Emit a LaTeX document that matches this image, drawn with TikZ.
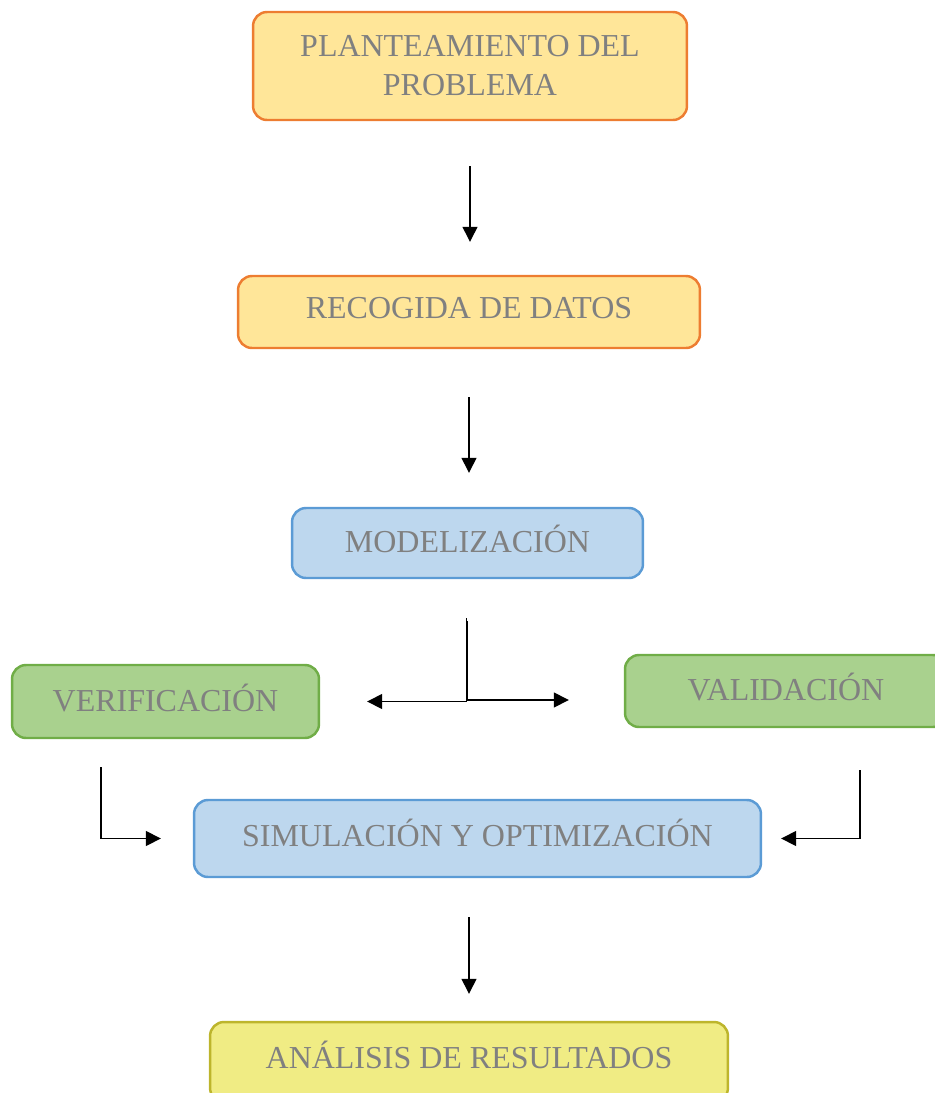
\documentclass[tikz,border=0pt]{standalone}
\usepackage{fontspec}
\setmainfont{Liberation Serif}
\usepackage[]{tikz}
\usetikzlibrary{arrows.meta}
\definecolor{naranja}{HTML}{ED7D31}
\definecolor{crema}{HTML}{FFE699}
\definecolor{azul}{HTML}{5B9BD5}
\definecolor{celeste}{HTML}{BDD7EE}
\definecolor{verde}{HTML}{70AD47}
\definecolor{verdeclaro}{HTML}{A9D18E}
\definecolor{oliva}{HTML}{BDB52C}
\definecolor{amarillo}{HTML}{F0EC84}
\definecolor{texto}{HTML}{808080}
\tikzset{caja/.style = {draw, rounded corners = 0.28cm, line width = 1.4pt, inner sep = 0,
    text = texto, align = center, text depth = 0.16cm, font = \fontsize{18.2}{22.5}\selectfont},
  naranjo/.style = {caja, draw = naranja, fill = crema},
  celest/.style = {caja, draw = azul, fill = celeste},
  verd/.style = {caja, draw = verde, fill = verdeclaro},
  amar/.style = {caja, draw = oliva, fill = amarillo},
  flecha/.style = {line width = 0.8pt, -{Triangle[length = 0.3cm, width = 0.3cm]}}}
\begin{document}
\begin{tikzpicture}[x = 0.02cm, y = -0.02cm]
            \useasboundingbox (0,0) rectangle (935,1093);
            \node [naranjo, text depth = 0.02cm, minimum width = 8.68cm, minimum height = 2.16cm] (plant) at (470,66) {PLANTEAMIENTO DEL\\PROBLEMA};
            \node [naranjo, minimum width = 9.24cm, minimum height = 1.44cm] (recog) at (469,312) {RECOGIDA DE DATOS};
            \node [celest, minimum width = 7.02cm, minimum height = 1.40cm] (model) at (467.5,543) {MODELIZACIÓN};
            \node [verd, minimum width = 6.14cm, minimum height = 1.46cm] (verif) at (165.5,701.5) {VERIFICACIÓN};
            \node [verd, minimum width = 6.44cm, minimum height = 1.44cm] (valid) at (786,691) {VALIDACIÓN};
            \node [celest, text depth = 0.24cm, minimum width = 11.34cm, minimum height = 1.54cm] (simul) at (477.5,838.5) {SIMULACIÓN Y OPTIMIZACIÓN};
            \node [amar, text depth = 0.3cm, minimum width = 10.36cm, minimum height = 1.60cm] (anal) at (469,1062) {ANÁLISIS DE RESULTADOS};
            \draw [flecha, shorten <= 0.9cm, shorten >= 0.66cm] (plant.south) -- (plant.south |- recog.north);
            \draw [flecha, shorten <= 0.96cm, shorten >= 0.68cm] (recog.south) -- (recog.south |- model.north);
            \draw [flecha, shorten <= 0.78cm, shorten >= 0.94cm] ([xshift = -0.02cm]model.south) |- (verif.east);
            \draw [flecha, shorten <= 0.84cm, shorten >= 1.1cm] (model.south) |- ([yshift = -0.18cm]valid.west);
            \draw [flecha, shorten <= 0.56cm, shorten >= 0.64cm] ([xshift = -1.29cm]verif.south) |- (simul.west);
            \draw [flecha, shorten <= 0.84cm, shorten >= 0.38cm] ([xshift = 1.48cm]valid.south) |- (simul.east);
            \draw [flecha, shorten <= 0.78cm, shorten >= 0.54cm] ([xshift = -0.17cm]simul.south) -- ([xshift = -0.17cm]simul.south |- anal.north);
        \end{tikzpicture}
\end{document}
